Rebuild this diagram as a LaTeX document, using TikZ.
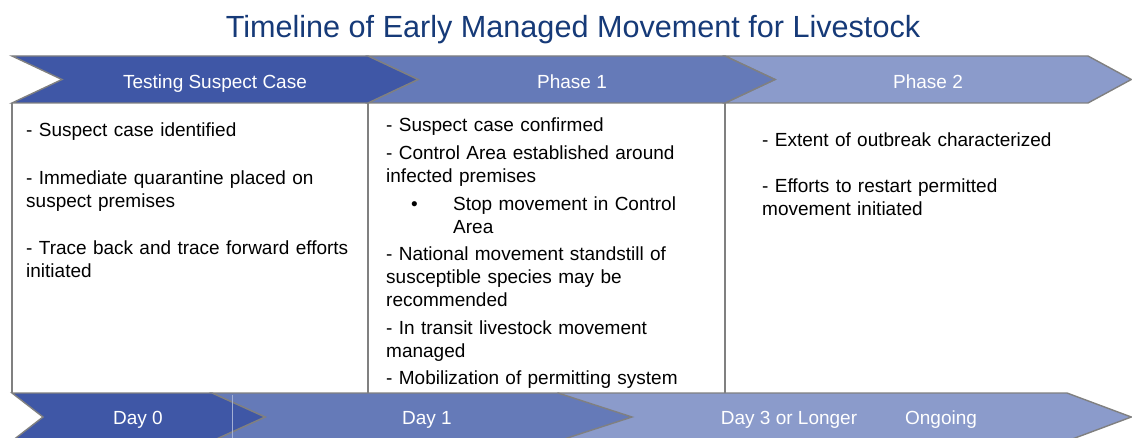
\documentclass[tikz,border=0pt]{standalone}
\usepackage{fontspec}
\setmainfont{Liberation Sans}
\definecolor{titleblue}{RGB}{22,58,120}
\definecolor{chevdark}{RGB}{63,87,166}
\definecolor{chevmid}{RGB}{101,122,184}
\definecolor{chevlight}{RGB}{139,155,203}
\definecolor{edgegray}{RGB}{128,128,128}
\begin{document}
\begin{tikzpicture}[x=1pt,y=-1pt,
  chev/.style={draw=edgegray,line width=1.4pt,line join=miter},
  boxline/.style={draw=edgegray,line width=1.4pt},
  lab/.style={text=white,font=\fontsize{19}{23}\selectfont,anchor=base,inner sep=0pt},
  body/.style={font=\fontsize{19}{22.8}\selectfont,anchor=base west,inner sep=0pt,text width=400pt,align=left},
  ttl/.style={text=titleblue,font=\fontsize{30.6}{36}\selectfont,anchor=base,inner sep=0pt}]
\useasboundingbox (0,0) rectangle (1132,438);
\fill[white] (0,0) rectangle (1132,438);
% title
\node[ttl] (title) at (573,38) {Timeline of Early Managed Movement for Livestock};
% top bar
\path[chev,fill=chevlight] (725,56) -- (1088,56) -- (1131.3,79.5) -- (1088,103) -- (725,103) -- (775,79.5) -- cycle;
\path[chev,fill=chevmid] (368,56) -- (725,56) -- (775,79.5) -- (725,103) -- (368,103) -- (418,79.5) -- cycle;
\path[chev,fill=chevdark] (12,56) -- (368,56) -- (418,79.5) -- (368,103) -- (12,103) -- (62,79.5) -- cycle;
\node[lab] (tsc) at (215,89) {Testing Suspect Case};
\node[lab] (p1) at (572,89) {Phase 1};
\node[lab] (p2) at (928,89) {Phase 2};
% content box lines
\path[boxline] (12,103) -- (12,393);
\path[boxline] (368,103) -- (368,393);
\path[boxline] (725,103) -- (725,393);
% bottom bar
\begin{scope}
\clip (0,0) rectangle (1132,438);
\path[chev,fill=chevlight] (558,393) -- (1067,393) -- (1131.3,417) -- (1067,441) -- (558,441) -- cycle;
\path[chev,fill=chevmid] (212,393) -- (558,393) -- (632,417) -- (558,441) -- (212,441) -- (265,417) -- cycle;
\path[chev,fill=chevdark] (12,393) -- (212,393) -- (265,417) -- (212,441) -- (12,441) -- (43,417) -- cycle;
\draw[draw=chevmid!60!white,line width=0.6pt] (232,394.5) -- (232,439.5);
\end{scope}
\node[lab] (d0) at (138,424) {Day 0};
\node[lab] (d1) at (427,424) {Day 1};
\node[lab] (d3) at (789,424) {Day 3 or Longer};
\node[lab] (ong) at (941,424) {Ongoing};
% column texts
\node[body] (col1) at (26,137) {- Suspect case identified\\[24.7pt]
- Immediate quarantine placed on\\
suspect premises\\[24.7pt]
- Trace back and trace forward efforts\\
initiated};
\node[body] (col2) at (386,132) {- Suspect case confirmed\\[5pt]
- Control Area established around\\
infected premises\\[5pt]
\hspace*{25pt}\makebox[42pt][l]{•}Stop movement in Control\\
\hspace*{67pt}Area\\[5pt]
- National movement standstill of\\
susceptible species may be\\
recommended\\[5pt]
- In transit livestock movement\\
managed\\[5pt]
- Mobilization of permitting system};
\node[body] (col3) at (762,147) {- Extent of outbreak characterized\\[23.2pt]
- Efforts to restart permitted\\
movement initiated};
\end{tikzpicture}
\end{document}
